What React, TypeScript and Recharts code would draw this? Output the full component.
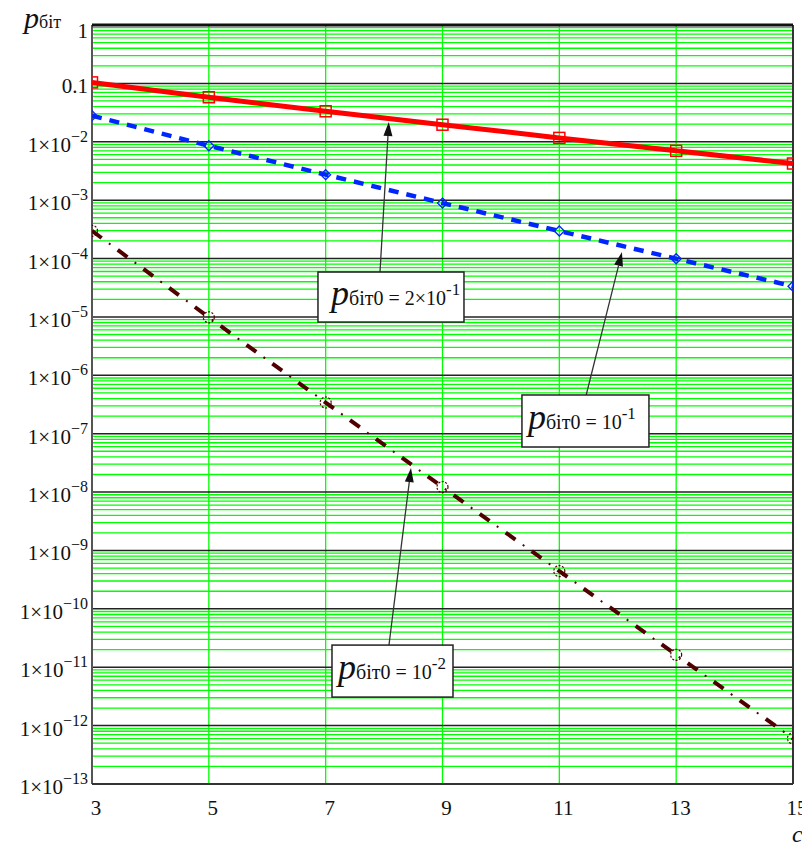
import React from 'react';
import { LineChart, Line, XAxis, YAxis, ReferenceLine, ReferenceDot } from 'recharts';

// c values (number of repetitions)
const cValues = [3, 5, 7, 9, 11, 13, 15];
// p_біт for p_біт0 = 2×10^-1
const pRed = [0.104, 0.0579, 0.0333, 0.0196, 0.01165, 0.0070, 0.00424];
// p_біт for p_біт0 = 10^-1
const pBlue = [0.028, 0.00856, 0.00273, 0.000891, 0.000296, 0.0000992, 0.0000335];
// p_біт for p_біт0 = 10^-2
const pDark = [2.98e-4, 9.85e-6, 3.42e-7, 1.218e-8, 4.43e-10, 1.628e-11, 6.04e-13];

const xTicks = [3, 5, 7, 9, 11, 13, 15];
const xGridValues = [5, 7, 9, 11, 13];
const yTicks = [1, 1e-1, 1e-2, 1e-3, 1e-4, 1e-5, 1e-6, 1e-7, 1e-8, 1e-9, 1e-10, 1e-11, 1e-12, 1e-13];
const minorMultipliers = [2, 3, 4, 5, 6, 7, 8, 9];
const minorGridValues = yTicks.slice(1).flatMap((d) => minorMultipliers.map((m) => m * d));

const data = cValues.map((c, i) => ({ c, red: pRed[i], blue: pBlue[i], dark: pDark[i] }));

const FONT = "'Liberation Serif', 'Times New Roman', serif";

const annotations = [
  { x: 8.118, y: 2.19e-5, w: 146, h: 50, pad: 13, main: '2×10', sup: '-1', fromX: 7.93, fromY: 5.87e-5, toX: 8.08, toY: 0.0218 },
  { x: 11.447, y: 1.65e-7, w: 127, h: 52, pad: 6, main: '10', sup: '-1', fromX: 11.456, fromY: 4.42e-7, toX: 12.072, toY: 1.29e-4 },
  { x: 8.144, y: 8.59e-12, w: 121, h: 52, pad: 6, main: '10', sup: '-2', fromX: 8.084, fromY: 2.4e-11, toX: 8.461, toY: 2.58e-8 },
];

const SquareDot = (props: any) => {
  const { cx, cy, index } = props;
  if (cx == null || cy == null) return <g key={`sq-${index}`} />;
  return <rect key={`sq-${index}`} x={cx - 5.5} y={cy - 5.5} width={11} height={11} fill="none" stroke="#ff0000" strokeWidth={1.5} />;
};

const DiamondDot = (props: any) => {
  const { cx, cy, index } = props;
  if (cx == null || cy == null) return <g key={`dm-${index}`} />;
  return (
    <path key={`dm-${index}`} d={`M${cx},${cy - 5} L${cx + 5},${cy} L${cx},${cy + 5} L${cx - 5},${cy} Z`} fill="none" stroke="#0026ff" strokeWidth={1.3} />
  );
};

const CircleDot = (props: any) => {
  const { cx, cy, index } = props;
  if (cx == null || cy == null) return <g key={`ci-${index}`} />;
  return <circle key={`ci-${index}`} cx={cx} cy={cy} r={5.5} fill="none" stroke="#500000" strokeWidth={1.2} strokeDasharray="2 1.5" />;
};

const YTick = (props: any) => {
  const { x, y, payload } = props;
  const v = payload.value;
  const e = Math.round(Math.log10(v));
  if (e === 0) {
    return <text x={x} y={y + 13} textAnchor="end" fontSize={21} fontFamily={FONT} fill="#111">1</text>;
  }
  if (e === -1) {
    return <text x={x} y={y + 10} textAnchor="end" fontSize={21} fontFamily={FONT} fill="#111">0.1</text>;
  }
  return (
    <text x={x} y={y + 10} textAnchor="end" fontSize={21} fontFamily={FONT} fill="#111">
      1×10<tspan fontSize={16} dy={-10}>{'\u2212' + -e}</tspan>
    </text>
  );
};

const XTick = (props: any) => {
  const { x, y, payload } = props;
  return (
    <text x={x + 4} y={y + 31} textAnchor="middle" fontSize={21} fontFamily={FONT} fill="#111">
      {payload.value}
    </text>
  );
};

const Arrow = (props: any) => {
  const { x1, y1, x2, y2 } = props;
  if ([x1, y1, x2, y2].some((v) => v == null || isNaN(v))) return <g />;
  const ang = Math.atan2(y2 - y1, x2 - x1);
  const L = 14;
  const W = 4.5;
  const c = Math.cos(ang);
  const s = Math.sin(ang);
  const bx = x2 - L * c;
  const by = y2 - L * s;
  const px = -s * W;
  const py = c * W;
  return (
    <g>
      <line x1={x1} y1={y1} x2={bx} y2={by} stroke="#333" strokeWidth={1.3} />
      <path d={`M${x2},${y2} L${bx + px},${by + py} L${bx - px},${by - py} Z`} fill="#111" />
    </g>
  );
};

const makeBox = (a: any) => (props: any) => {
  const { cx, cy } = props;
  if (cx == null || cy == null) return <g />;
  const left = cx - a.w / 2;
  const top = cy - a.h / 2;
  return (
    <g>
      <rect x={left} y={top} width={a.w} height={a.h} fill="#fff" stroke="#222" strokeWidth={1.5} />
      <text x={left + a.pad} y={cy + 8} fontFamily={FONT} fill="#111">
        <tspan fontStyle="italic" fontSize={36}>p</tspan>
        <tspan fontSize={20}>біт0</tspan>
        <tspan fontSize={20}>{' = ' + a.main}</tspan>
        <tspan fontSize={17} dy={-10}>{a.sup}</tspan>
      </text>
    </g>
  );
};

export default function App() {
  return (
    <div style={{ position: 'relative', width: 802, height: 834 }}>
      <LineChart width={802} height={834} data={data} margin={{ top: 17, right: 17, left: 4, bottom: 28 }}>
        <XAxis
          dataKey="c"
          type="number"
          domain={[3, 15]}
          ticks={xTicks}
          interval={0}
          allowDataOverflow
          tickLine={false}
          axisLine={false}
          tickSize={0}
          tickMargin={0}
          height={30}
          tick={XTick}
        />
        <YAxis
          type="number"
          scale="log"
          domain={[1e-13, 1]}
          ticks={yTicks}
          interval={0}
          allowDataOverflow
          tickLine={false}
          axisLine={false}
          tickSize={0}
          tickMargin={4}
          width={80}
          tick={YTick}
        />
        {minorGridValues.map((v, i) => (
          <ReferenceLine key={`mg-${i}`} y={v} stroke="#00ff00" strokeWidth={1.3} />
        ))}
        {xGridValues.map((v, i) => (
          <ReferenceLine key={`vg-${i}`} x={v} stroke="#00ff00" strokeWidth={1.3} />
        ))}
        {yTicks.slice(1, -1).map((v, i) => (
          <ReferenceLine key={`Mg-${i}`} y={v} stroke="#222" strokeWidth={1.5} />
        ))}
        <ReferenceLine x={3} stroke="#555" strokeWidth={2} />
        <ReferenceLine x={15} stroke="#333" strokeWidth={2} />
        <ReferenceLine y={1} stroke="#111" strokeWidth={3} />
        <ReferenceLine y={1e-13} stroke="#333" strokeWidth={2} />
        <Line type="linear" dataKey="red" stroke="#ff0000" strokeWidth={5} dot={SquareDot} activeDot={false} isAnimationActive={false} />
        <Line type="linear" dataKey="blue" stroke="#0026ff" strokeWidth={4.5} strokeDasharray="10 8" dot={DiamondDot} activeDot={false} isAnimationActive={false} />
        <Line type="linear" dataKey="dark" stroke="#500000" strokeWidth={4} strokeDasharray="12 20" dot={false} activeDot={false} isAnimationActive={false} />
        <Line type="linear" dataKey="dark" stroke="#500000" strokeWidth={2} strokeDasharray="0 21 2 9" dot={CircleDot} activeDot={false} isAnimationActive={false} />
        {annotations.map((a, i) => (
          <ReferenceLine
            key={`arrow-${i}`}
            segment={[{ x: a.fromX, y: a.fromY }, { x: a.toX, y: a.toY }]}
            ifOverflow="visible"
            shape={Arrow}
          />
        ))}
        {annotations.map((a, i) => (
          <ReferenceDot key={`box-${i}`} x={a.x} y={a.y} r={1} ifOverflow="visible" shape={makeBox(a)} />
        ))}
      </LineChart>
      <svg width={810} height={850} style={{ position: 'absolute', left: -8, top: -8, pointerEvents: 'none' }}>
        <text x={24} y={28} fontFamily={FONT} fill="#111">
          <tspan fontStyle="italic" fontSize={30}>p</tspan>
          <tspan fontSize={18}>біт</tspan>
        </text>
        <text x={792} y={842} fontFamily={FONT} fontStyle="italic" fontSize={24} fill="#111">c</text>
      </svg>
    </div>
  );
}
